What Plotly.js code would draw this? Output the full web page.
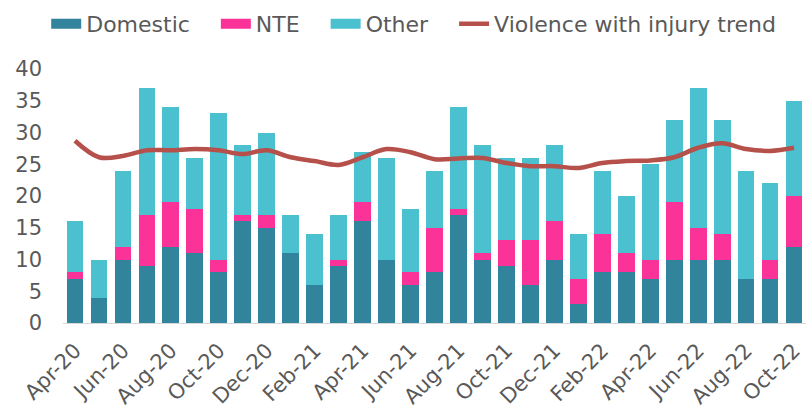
<!DOCTYPE html>
<html>
<head>
<meta charset="utf-8">
<script src="https://cdn.plot.ly/plotly-3.0.1.min.js"></script>
<style>
  html, body { margin: 0; padding: 0; background: #fff; }
  #chart { width: 807px; height: 410px; }
</style>
</head>
<body>
<div id="chart"></div>
<script>
// month labels, Apr-20 .. Oct-22
var months = ['Apr-20','May-20','Jun-20','Jul-20','Aug-20','Sep-20','Oct-20','Nov-20','Dec-20',
  'Jan-21','Feb-21','Mar-21','Apr-21','May-21','Jun-21','Jul-21','Aug-21','Sep-21','Oct-21','Nov-21','Dec-21',
  'Jan-22','Feb-22','Mar-22','Apr-22','May-22','Jun-22','Jul-22','Aug-22','Sep-22','Oct-22'];

var domestic = [7,4,10,9,12,11,8,16,15, 11,6,9,16,10,6,8,17,10,9,6,10, 3,8,8,7,10,10,10,7,7,12];
var nte      = [1,0,2,8,7,7,2,1,2, 0,0,1,3,0,2,7,1,1,4,7,6, 4,6,3,3,9,5,4,0,3,8];
var other    = [8,6,12,20,15,8,23,11,13, 6,8,7,8,16,10,9,16,17,13,13,12, 7,10,9,15,13,22,18,17,12,15];
var trend    = [28.7,26.1,26.3,27.2,27.2,27.4,27.2,26.6,27.2, 26.1,25.5,24.9,26.1,27.4,26.9,25.8,25.9,26.0,25.2,24.7,24.7,
  24.4,25.2,25.5,25.6,26.1,27.6,28.3,27.4,27.1,27.6];

var tickMonths = months.filter(function (m, i) { return i % 2 === 0; });

var colDom = '#31849b', colNte = '#fb3399', colOth = '#4bc0cf', colTrend = '#b5504b';
var pad = '\u00a0\u00a0\u00a0';

// wide rectangular legend swatches, like the original
function swatch(name, color) {
  return { x: [null], y: [null], type: 'scatter', mode: 'lines', name: name + pad,
    line: { color: color, width: 14 }, hoverinfo: 'skip' };
}

var data = [
  { x: months, y: domestic, type: 'bar', name: 'Domestic', marker: { color: colDom }, showlegend: false },
  { x: months, y: nte, type: 'bar', name: 'NTE', marker: { color: colNte }, showlegend: false },
  { x: months, y: other, type: 'bar', name: 'Other', marker: { color: colOth }, showlegend: false },
  swatch('Domestic', colDom),
  swatch('NTE', colNte),
  swatch('Other', colOth),
  { x: months, y: trend, type: 'scatter', mode: 'lines', name: 'Violence with injury trend',
    line: { color: colTrend, width: 4.5, shape: 'spline' } }
];

var layout = {
  width: 807, height: 410,
  barmode: 'stack',
  bargap: 0.3,
  paper_bgcolor: '#fff', plot_bgcolor: '#fff',
  font: { family: 'DejaVu Sans, Verdana, sans-serif', color: '#595959', size: 20 },
  margin: { l: 63, r: 1, t: 69, b: 87 },
  showlegend: true,
  legend: { orientation: 'h', x: 0.472, xanchor: 'center', y: 1.26, yanchor: 'top',
    font: { size: 22, color: '#595959' }, traceorder: 'normal' },
  xaxis: {
    type: 'category',
    range: [-0.5, 30.5],
    tickmode: 'array', tickvals: tickMonths, ticktext: tickMonths,
    tickangle: -45, tickfont: { size: 21 }, ticklabelstandoff: 6,
    showline: true, linecolor: '#d9d9d9', linewidth: 1,
    showgrid: false, ticks: ''
  },
  yaxis: {
    range: [0, 40], dtick: 5,
    showgrid: false, zeroline: false, showline: false,
    tickfont: { size: 21 }, ticks: '', ticklabelstandoff: 20
  }
};

Plotly.newPlot('chart', data, layout, { displayModeBar: false, staticPlot: true });
</script>
</body>
</html>
